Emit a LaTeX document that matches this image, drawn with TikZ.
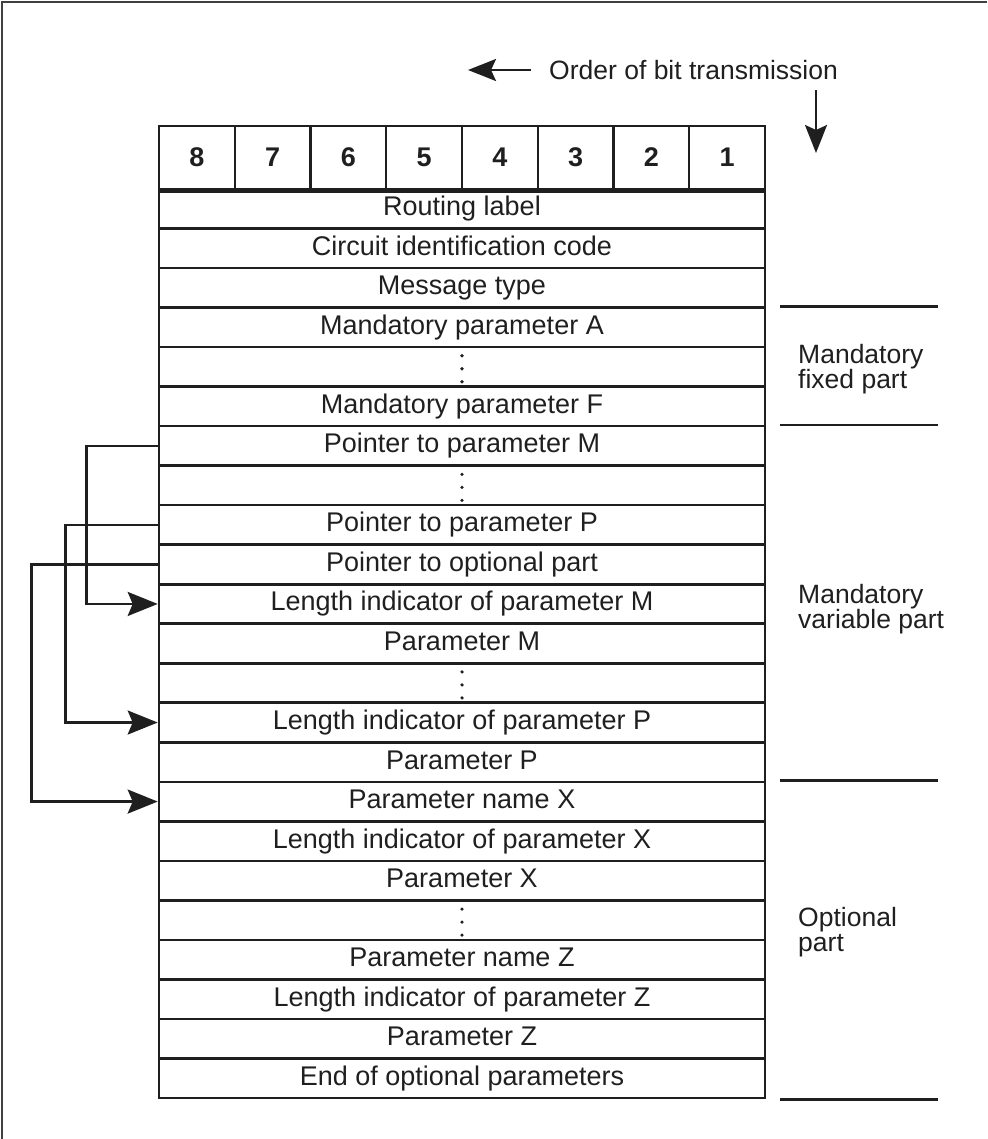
\documentclass[tikz,border=0pt]{standalone}
\usepackage{fontspec}
\setmainfont{Liberation Sans}
\usetikzlibrary{arrows.meta}
\begin{document}
\begin{tikzpicture}[x=1pt,y=-1pt,
  field/.style={draw=black!88, line width=2.6pt, minimum width=606pt, minimum height=39.52pt,
    inner sep=0pt, text height=19.5pt, text depth=5.5pt,
    font=\fontsize{27}{30}\selectfont, text=black!88},
  bitcell/.style={draw=black!88, line width=2.2pt, minimum width=75.75pt, minimum height=63pt,
    inner sep=0pt, font=\fontsize{27}{30}\selectfont\bfseries, text=black!88},
  partlabel/.style={anchor=north west, inner sep=0pt, align=left,
    font=\fontsize{26.5}{25}\selectfont, text=black!88},
  sectionrule/.style={line width=2.6pt, draw=black!88},
  ptr/.style={line width=2.6pt, draw=black!88,
    -{Stealth[length=30pt,width=24pt,inset=5pt]}},
  dirarrow/.style={line width=2.4pt, draw=black!88,
    -{Stealth[length=28pt,width=22pt,inset=5pt]}},
  frameline/.style={line width=2.5pt, draw=black!75}
]
\useasboundingbox (0,0) rectangle (987,1139);

% partial frame: top and left edges
\draw[frameline] (987,2) -- (2,2) -- (2,1139);

% direction of transmission
\node[anchor=base west, inner sep=0pt, font=\fontsize{26.5}{30}\selectfont, text=black!88]
  (order) at (549,80) {Order of bit transmission};
\coordinate (tailL) at (531,70);
\coordinate (headL) at (468,70);
\draw[dirarrow] (tailL) -- (headL);
\coordinate (tailD) at (816,90);
\coordinate (headD) at (816,153);
\draw[dirarrow] (tailD) -- (headD);

% bit numbering header
\foreach \b [count=\i from 0] in {8,7,6,5,4,3,2,1}
  \node[bitcell] (h\b) at ({159+75.75*(\i+0.5)},157.5) {\b};
\draw[line width=5pt, black!88] (h8.south west) -- (h1.south east);

% message fields
\foreach \t [count=\i from 0] in {
    Routing label,
    Circuit identification code,
    Message type,
    Mandatory parameter A,
    {},
    Mandatory parameter F,
    Pointer to parameter M,
    {},
    Pointer to parameter P,
    Pointer to optional part,
    Length indicator of parameter M,
    Parameter M,
    {},
    Length indicator of parameter P,
    Parameter P,
    Parameter name X,
    Length indicator of parameter X,
    Parameter X,
    {},
    Parameter name Z,
    Length indicator of parameter Z,
    Parameter Z,
    End of optional parameters}
  \node[field] (r\i) at (462,{189+39.52*(\i+0.5)}) {\t};

% vertical ellipses in the elided fields
\foreach \k in {4,7,12,18}
  \foreach \d in {10,23,36}
    \fill[black!88] ([yshift=-\d pt]r\k.north) circle (1.8pt);

% section rules on the right
\foreach \r/\a in {r3/north, r6/north, r15/north, r22/south}
  \draw[sectionrule] ([xshift=14pt]\r.\a\space east) -- ++(158,0);

\node[partlabel] (fixedpart) at (798,343.7) {Mandatory\\fixed part};
\node[partlabel] (varpart) at (798,583.7) {Mandatory\\variable part};
\node[partlabel] (optpart) at (798,907.5) {Optional\\part};

% pointers
\draw[ptr] (r6.west) -- ++(-71,0) |- (r10.west);
\draw[ptr] (r8.west) -- ++(-92,0) |- (r13.west);
\draw[ptr] (r9.west) -- ++(-126,0) |- (r15.west);
\end{tikzpicture}
\end{document}
